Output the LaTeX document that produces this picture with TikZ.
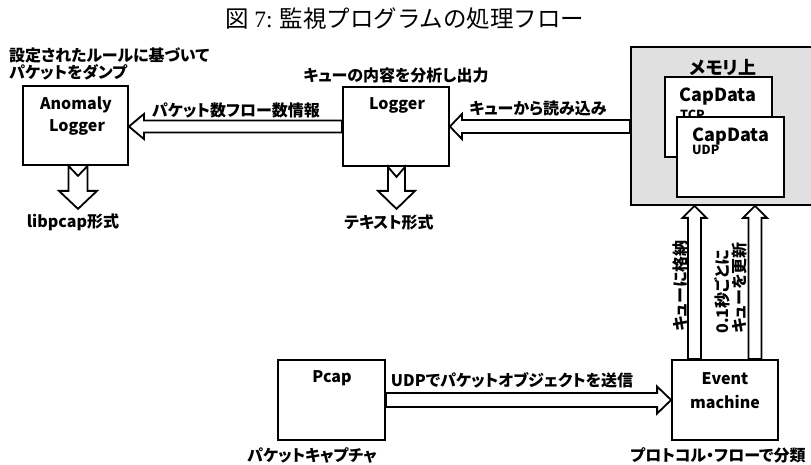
\documentclass[tikz,border=0pt]{standalone}
\usepackage{fontspec}
\newfontfamily\jp[RawFeature=+palt]{Noto Sans CJK JP}
\newfontfamily\jpt{Noto Sans CJK JP}
\newfontfamily\serifL{Liberation Serif}
\usetikzlibrary{calc}
\newcommand\blockarr[6]{%
  \coordinate (ba-h) at ($(#2)!#5!(#1)$);
  \draw[arrbody] ($(#1)!#3!90:(#2)$) -- ($(ba-h)!#3!90:(#2)$) -- ($(ba-h)!#4!90:(#2)$) -- (#2)
    -- ($(ba-h)!#4!-90:(#2)$) -- ($(ba-h)!#3!-90:(#2)$) -- ($(#1)!#3!-90:(#2)$) -- ($(#1)!#6!(#2)$) -- cycle;
}
\tikzset{
  box/.style={draw, line width=1.8pt, fill=white, inner sep=0pt},
  arrbody/.style={draw, line width=1.8pt, fill=white, line join=miter},
  lab/.style={inner sep=0pt, font=\jp\bfseries\fontsize{16}{17}\selectfont},
  boxtxt/.style={inner sep=0pt, font=\jp\bfseries\fontsize{16}{17}\selectfont},
  captxt/.style={inner sep=0pt, font=\jp\bfseries\fontsize{18}{20}\selectfont},
  smalltxt/.style={inner sep=0pt, font=\jp\bfseries\fontsize{12.5}{13}\selectfont},
}
\begin{document}
\begin{tikzpicture}[x=1pt, y=-1pt]
\useasboundingbox (0,0) rectangle (811,465);
\clip (0,0) rectangle (811,465);

% title
\node[inner sep=0pt, font=\fontsize{23.5}{26}\selectfont] (title) at (405,19) {\jpt 図 {\serifL 7:} 監視プログラムの処理フロー};

% boxes
\node[box, minimum width=105pt, minimum height=79pt] (anom) at (75.5,125.5) {};
\node[box, minimum width=106pt, minimum height=79pt] (logger) at (396,126.5) {};
\node[box, fill=black!12, minimum width=184pt, minimum height=158pt] (mem) at (723,126) {};
\node[box, minimum width=107pt, minimum height=80pt] (tcp) at (718.5,117) {};
\node[box, minimum width=107pt, minimum height=80pt] (pcap) at (331.5,400) {};
\node[box, minimum width=106pt, minimum height=80pt] (event) at (725,400) {};

% texts in boxes
\node[boxtxt] (anomt1) at (76,105) {Anomaly};
\node[boxtxt] (anomt2) at (77,127) {Logger};
\node[boxtxt] (loggert) at (397,105) {Logger};
\node[inner sep=0pt, font=\jp\bfseries\fontsize{18}{20}\selectfont] (memt) at (723,67) {メモリ上};
\node[captxt] (tcpt) at (718,97) {CapData};
\node[smalltxt, anchor=west] (tcpl) at (680,115) {TCP};
\node[box, minimum width=107pt, minimum height=80pt] (udp) at (730.5,157) {};
\node[captxt] (udpt) at (731,137) {CapData};
\node[smalltxt, anchor=west] (udpl) at (692,150) {UDP};
\node[boxtxt] (pcapt) at (332,378) {Pcap};
\node[boxtxt] (eventt1) at (725,379) {Event};
\node[boxtxt] (eventt2) at (725,402) {machine};

% arrows
\coordinate (anomtail) at ($(anom.south)+(2.5,0)$);
\coordinate (anomtip) at ($(anom.south)+(2.5,43)$);
\blockarr{anomtail}{anomtip}{9.5pt}{19pt}{18pt}{10pt}
\coordinate (logtail) at ($(logger.south)+(0.5,0)$);
\coordinate (logtip) at ($(logger.south)+(0.5,42)$);
\blockarr{logtail}{logtip}{8.5pt}{18.5pt}{18pt}{10pt}

\coordinate (a1tip) at (anom.east |- logger.west);
\blockarr{logger.west}{a1tip}{6pt}{12.5pt}{15pt}{0pt}
\coordinate (a2tail) at (mem.west |- logger.east);
\blockarr{a2tail}{logger.east}{6.5pt}{12.5pt}{12pt}{0pt}
\blockarr{pcap.east}{event.west}{7pt}{13.5pt}{14pt}{0pt}

\coordinate (u1tail) at ($(event.north)+(-30.5,0)$);
\coordinate (u1tip) at (u1tail |- mem.south);
\blockarr{u1tail}{u1tip}{6.5pt}{12pt}{12pt}{0pt}
\coordinate (u2tail) at ($(event.north)+(30,0)$);
\coordinate (u2tip) at (u2tail |- mem.south);
\blockarr{u2tail}{u2tip}{6.5pt}{12pt}{12pt}{0pt}

% labels
\node[lab, anchor=west, align=left] (rule) at (9,64) {設定されたルールに基づいて\\パケットをダンプ};
\node[lab] (anal) at (396,75) {キューの内容を分析し出力};
\node[lab] (cnt) at (236,110) {パケット数フロー数情報};
\node[lab] (read) at (538,108) {キューから読み込み};
\node[lab] (libp) at (73,222) {libpcap形式};
\node[lab] (text) at (389,222) {テキスト形式};
\node[lab] (udps) at (512,380) {UDPでパケットオブジェクトを送信};
\node[lab] (capt) at (312,455) {パケットキャプチャ};
\node[lab] (proto) at (718,455) {プロトコル・フローで分類};
\node[lab, rotate=90] (store) at (680,286) {キューに格納};
\node[lab, rotate=90, align=left] (upd) at (731,288) {0.1秒ごとに\\キューを更新};
\end{tikzpicture}
\end{document}
